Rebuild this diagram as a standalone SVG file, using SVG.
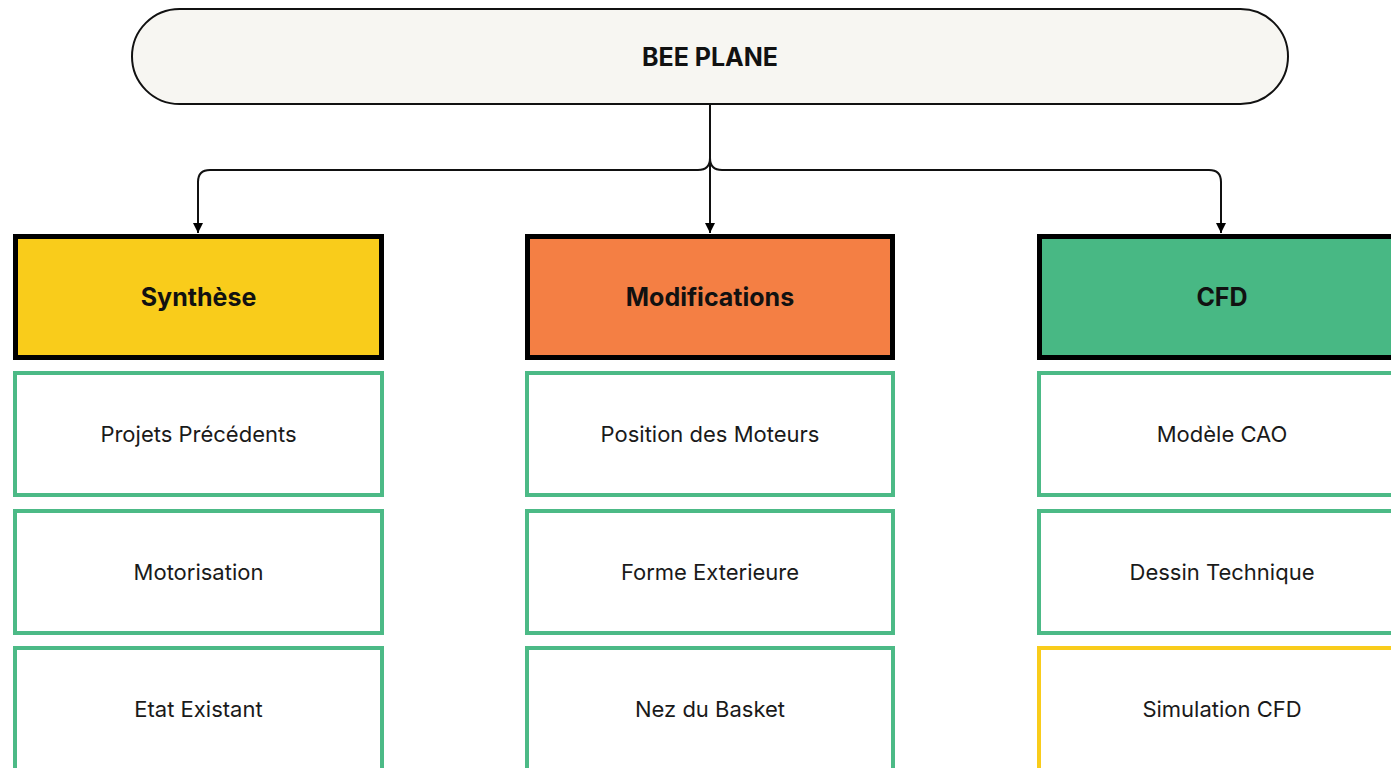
<svg xmlns="http://www.w3.org/2000/svg" width="1391" height="768" viewBox="0 0 1391 768">
  <defs>
    <marker id="arrow" viewBox="0 0 10 10" refX="10" refY="5" markerWidth="10" markerHeight="10" markerUnits="userSpaceOnUse" orient="auto">
      <path d="M0,0 L10,5 L0,10 z" fill="#000"/>
    </marker>
    <style>
      .hdr { stroke: #000; stroke-width: 5; }
      .sub { fill: #fff; stroke: #4CBA86; stroke-width: 4; }
      .sub.warn { stroke: #F9CC1B; }
      .t-hdr { font-family: Inter, "Noto Sans", "Liberation Sans", sans-serif; font-weight: 700; font-size: 25px; fill: #111; text-anchor: middle; dominant-baseline: central; }
      .t-sub { font-family: Inter, "Noto Sans", "Liberation Sans", sans-serif; font-weight: 400; font-size: 22px; fill: #1a1a1a; text-anchor: middle; dominant-baseline: central; }
      .link { fill: none; stroke: #111; stroke-width: 2; }
    </style>
  </defs>
  <rect width="1391" height="768" fill="#fff"/>

  <!-- root -->
  <g id="root">
    <rect x="132" y="9" width="1156" height="95" rx="47.5" fill="#F7F6F2" stroke="#111" stroke-width="2"/>
    <text class="t-hdr" x="710" y="57">BEE PLANE</text>
  </g>

  <!-- connectors -->
  <g id="connectors">
    <path class="link" d="M710,105 V233" marker-end="url(#arrow)"/>
    <path class="link" d="M710,158 Q710,170 698,170 H210 Q198,170 198,182 V233" marker-end="url(#arrow)"/>
    <path class="link" d="M710,158 Q710,170 722,170 H1209 Q1221,170 1221,182 V233" marker-end="url(#arrow)"/>
  </g>

  <!-- column 1 -->
  <g id="synthese">
    <rect class="hdr" x="15.5" y="236.5" width="366" height="121" fill="#F9CC1B"/>
    <text class="t-hdr" x="198.5" y="297">Synthèse</text>
  </g>
  <g id="projets-precedents">
    <rect class="sub" x="15" y="373" width="367" height="122"/>
    <text class="t-sub" x="198.5" y="434">Projets Précédents</text>
  </g>
  <g id="motorisation">
    <rect class="sub" x="15" y="511" width="367" height="122"/>
    <text class="t-sub" x="198.5" y="572">Motorisation</text>
  </g>
  <g id="etat-existant">
    <rect class="sub" x="15" y="648" width="367" height="140"/>
    <text class="t-sub" x="198.5" y="709">Etat Existant</text>
  </g>

  <!-- column 2 -->
  <g id="modifications">
    <rect class="hdr" x="527.5" y="236.5" width="365" height="121" fill="#F47F44"/>
    <text class="t-hdr" x="710" y="297">Modifications</text>
  </g>
  <g id="position-moteurs">
    <rect class="sub" x="527" y="373" width="366" height="122"/>
    <text class="t-sub" x="710" y="434">Position des Moteurs</text>
  </g>
  <g id="forme-exterieure">
    <rect class="sub" x="527" y="511" width="366" height="122"/>
    <text class="t-sub" x="710" y="572">Forme Exterieure</text>
  </g>
  <g id="nez-basket">
    <rect class="sub" x="527" y="648" width="366" height="140"/>
    <text class="t-sub" x="710" y="709">Nez du Basket</text>
  </g>

  <!-- column 3 -->
  <g id="cfd">
    <rect class="hdr" x="1039.5" y="236.5" width="366" height="121" fill="#48B884"/>
    <text class="t-hdr" x="1222" y="297">CFD</text>
  </g>
  <g id="modele-cao">
    <rect class="sub" x="1039" y="373" width="367" height="122"/>
    <text class="t-sub" x="1222" y="434">Modèle CAO</text>
  </g>
  <g id="dessin-technique">
    <rect class="sub" x="1039" y="511" width="367" height="122"/>
    <text class="t-sub" x="1222" y="572">Dessin Technique</text>
  </g>
  <g id="simulation-cfd">
    <rect class="sub warn" x="1039" y="648" width="367" height="140"/>
    <text class="t-sub" x="1222" y="709">Simulation CFD</text>
  </g>
</svg>
